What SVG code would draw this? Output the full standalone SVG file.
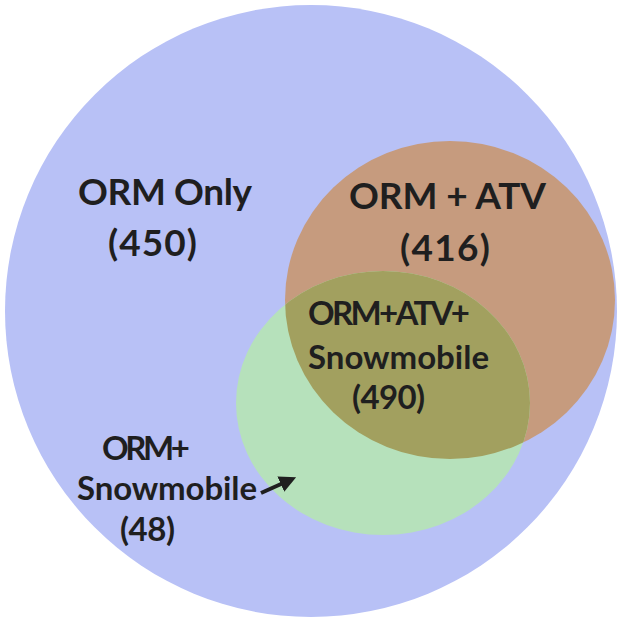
<svg xmlns="http://www.w3.org/2000/svg" width="618" height="620" viewBox="0 0 618 620">
  <style>
    .lbl { font-family: Lato, "Open Sans", "Liberation Sans", sans-serif; font-weight: bold; fill: #1f1f1f; }
    .big { font-size: 37px; }
    .mid { font-size: 33px; }
  </style>
  <defs>
    <clipPath id="clipGreen">
      <ellipse cx="383" cy="403" rx="147" ry="132"/>
    </clipPath>
    <marker id="arrowHead" viewBox="0 0 10 10" refX="6" refY="5" markerWidth="4.2" markerHeight="4.2" orient="auto" markerUnits="strokeWidth">
      <path d="M0,0 L10,5 L0,10 z" fill="#1f1f1f"/>
    </marker>
  </defs>
  <rect width="618" height="620" fill="#ffffff"/>

  <g id="orm-only">
    <circle cx="311" cy="311" r="306" fill="#b8c1f6"/>
    <text class="lbl big" x="78" y="205" textLength="174">ORM Only</text>
    <text class="lbl big" x="108" y="256" textLength="89">(450)</text>
  </g>

  <g id="orm-atv">
    <ellipse cx="450" cy="300" rx="165" ry="159" fill="#c69b7e"/>
    <text class="lbl big" x="349" y="209" textLength="197">ORM + ATV</text>
    <text class="lbl big" x="400" y="261" textLength="90">(416)</text>
  </g>

  <g id="orm-snowmobile">
    <ellipse cx="383" cy="403" rx="147" ry="132" fill="#b6e1bb"/>
    <text class="lbl mid" x="102" y="460" textLength="88">ORM+</text>
    <text class="lbl mid" x="77" y="500" textLength="180">Snowmobile</text>
    <text class="lbl mid" x="120" y="541" textLength="55">(48)</text>
  </g>

  <g id="orm-atv-snowmobile">
    <ellipse cx="450" cy="300" rx="165" ry="159" fill="#a2a05f" clip-path="url(#clipGreen)"/>
    <text class="lbl mid" x="308" y="325" textLength="162">ORM+ATV+</text>
    <text class="lbl mid" x="308" y="369" textLength="181">Snowmobile</text>
    <text class="lbl mid" x="352" y="409" textLength="73">(490)</text>
  </g>

  <g id="connectors">
    <line x1="261" y1="493" x2="290" y2="480" stroke="#1f1f1f" stroke-width="4" marker-end="url(#arrowHead)"/>
  </g>
</svg>
